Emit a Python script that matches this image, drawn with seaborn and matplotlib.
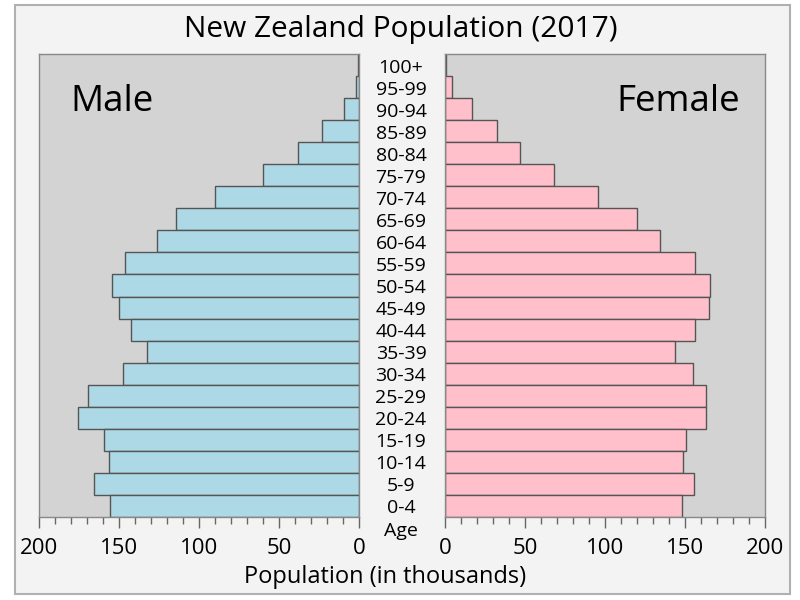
import matplotlib
matplotlib.use("Agg")
import matplotlib.pyplot as plt
import matplotlib.transforms as mtransforms
from matplotlib.patches import Rectangle
from matplotlib.ticker import MultipleLocator
import seaborn as sns
import pandas as pd

ages = ["0-4", "5-9", "10-14", "15-19", "20-24", "25-29", "30-34", "35-39",
        "40-44", "45-49", "50-54", "55-59", "60-64", "65-69", "70-74",
        "75-79", "80-84", "85-89", "90-94", "95-99", "100+"]
male = [155.6, 165.4, 156.5, 159.2, 175.4, 169.2, 147.3, 132.3, 142.3, 149.8,
        154.2, 146.5, 126.0, 114.2, 89.8, 59.8, 38.1, 22.9, 9.4, 2.1, 0.4]
female = [148.1, 155.6, 148.8, 150.8, 163.1, 163.3, 155.0, 144.0, 156.5, 165.0,
          165.6, 156.1, 134.2, 120.2, 95.6, 68.1, 46.9, 32.5, 16.9, 4.4, 0.4]
x_ticks = [0, 50, 100, 150, 200]

sns.set_theme(style="white")
plt.rcParams['font.family'] = ['Open Sans', 'DejaVu Sans']
plt.rcParams['text.color'] = 'black'

df = pd.DataFrame({"age": ages, "male": male, "female": female})
order = ages[::-1]

fig = plt.figure(figsize=(8, 6), dpi=100, facecolor="white")
fig.patches.append(Rectangle((15/800, 1-594/600), 775/800, 589/600, transform=fig.transFigure,
                             facecolor="#f3f3f3", edgecolor="#b0b0b0", linewidth=1.5, zorder=-10))

axL = fig.add_axes([39/800, 1-517/600, 320/800, 463/600])
axR = fig.add_axes([445/800, 1-517/600, 320/800, 463/600])

sns.barplot(data=df, x="male", y="age", order=order, ax=axL, color="lightblue",
            saturation=1, edgecolor="#555555", linewidth=1, width=1.0)
sns.barplot(data=df, x="female", y="age", order=order, ax=axR, color="pink",
            saturation=1, edgecolor="#555555", linewidth=1, width=1.0)

for ax in (axL, axR):
    ax.set_facecolor("lightgray")
    ax.set_ylabel("")
    ax.set_xlabel("")
    ax.set_yticks([])
    ax.set_ylim(len(ages) - 0.5, -0.5)
    ax.set_xticks(x_ticks)
    ax.set_xticklabels([str(t) for t in x_ticks], fontsize=16, color="black")
    ax.xaxis.set_minor_locator(MultipleLocator(10))
    ax.tick_params(axis="x", which="major", direction="out", length=8, width=1,
                   color="#666666", pad=7, bottom=True)
    ax.tick_params(axis="x", which="minor", direction="out", length=5, width=1,
                   color="#666666", bottom=True)
    for s in ax.spines.values():
        s.set_color("#888888")
        s.set_linewidth(1)

axL.set_xlim(200, 0)
axR.set_xlim(0, 200)

trans = mtransforms.blended_transform_factory(fig.transFigure, axL.transData)
trans = mtransforms.offset_copy(trans, fig=fig, x=0, y=-2.5, units="dots")
for i, a in enumerate(order):
    fig.text(401/800, i, a, transform=trans, ha="center", va="center", fontsize=14, color="black")

fig.text(401/800, 1-531/600, "Age", ha="center", va="center", fontsize=14, color="black")
fig.text(385/800, 1-577/600, "Population (in thousands)", ha="center", va="center", fontsize=17, color="black")
fig.text(401/800, 1-30/600, "New Zealand Population (2017)", ha="center", va="center", fontsize=21.5, color="black")
fig.text(70/800, 1-102/600, "Male", ha="left", va="center", fontsize=26.5, color="black")
fig.text(740/800, 1-102/600, "Female", ha="right", va="center", fontsize=26.5, color="black")

fig.savefig("out.png", dpi=100, facecolor="white")
